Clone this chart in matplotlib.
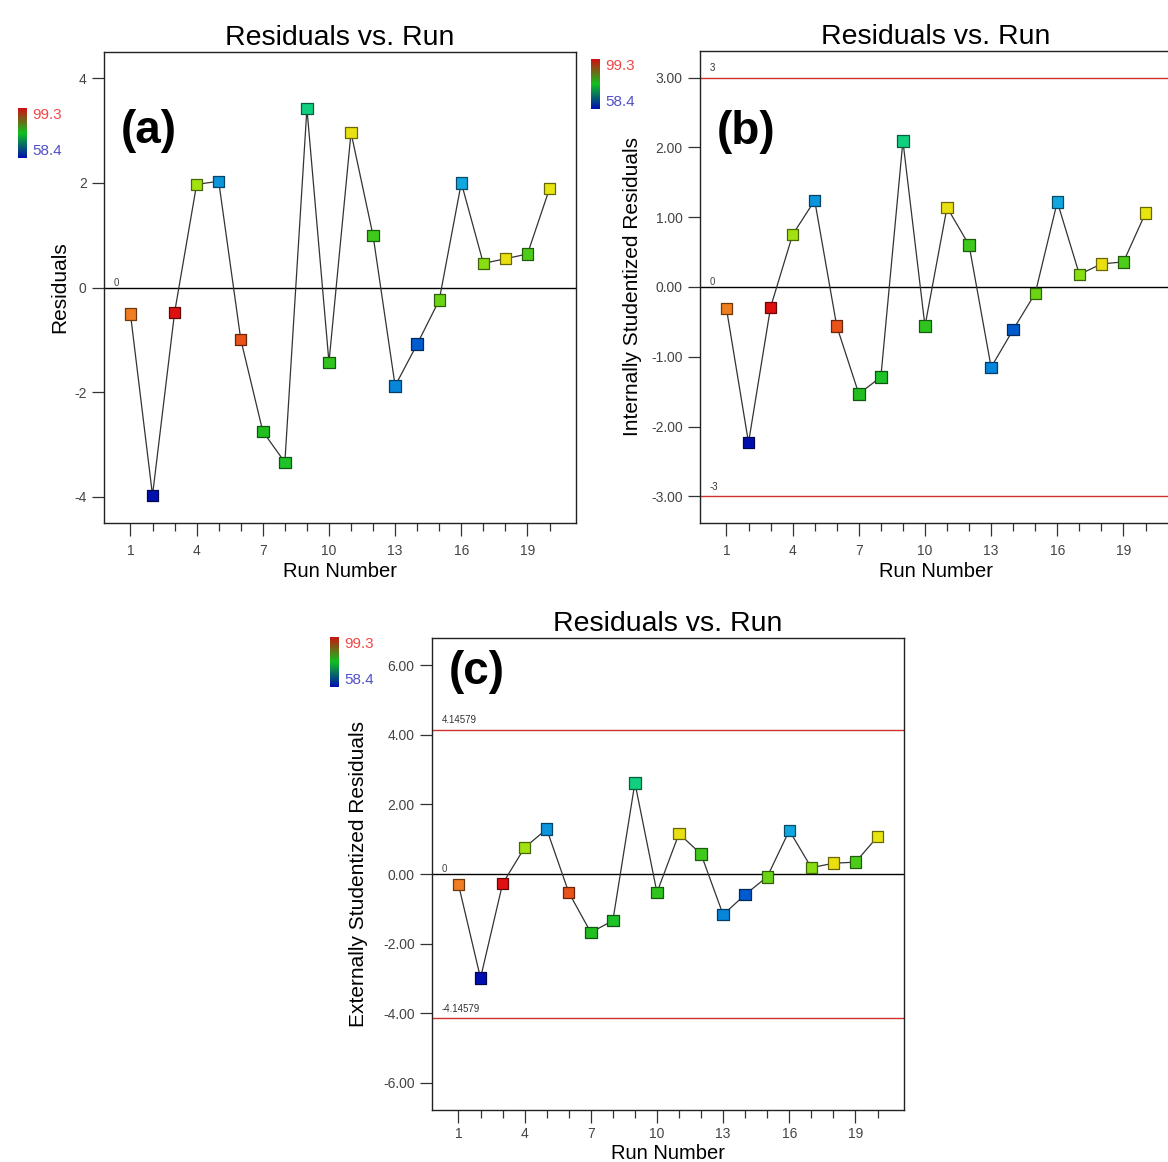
import numpy as np
import matplotlib
matplotlib.use("Agg")
import matplotlib.pyplot as plt
from matplotlib.colors import LinearSegmentedColormap, Normalize

plt.rcParams['font.family'] = ['Liberation Sans', 'DejaVu Sans']

# run order and residuals
runs = np.arange(1, 21)
resid = [-0.51, -3.97, -0.48, 1.97, 2.03, -0.99, -2.75, -3.34, 3.42, -1.43,
         2.96, 0.99, -1.88, -1.08, -0.24, 2.00, 0.46, 0.55, 0.64, 1.89]
int_stud = [-0.31, -2.23, -0.29, 0.75, 1.24, -0.56, -1.53, -1.29, 2.09, -0.56,
            1.14, 0.60, -1.15, -0.61, -0.09, 1.22, 0.18, 0.33, 0.36, 1.06]
ext_stud = [-0.30, -2.99, -0.28, 0.76, 1.29, -0.53, -1.68, -1.34, 2.62, -0.53,
            1.16, 0.57, -1.17, -0.59, -0.08, 1.25, 0.18, 0.31, 0.34, 1.07]
# response used to colour the points (58.4 .. 99.3)
response = [94.4, 58.4, 99.3, 85.8, 69.4, 96.4, 78.9, 78.5, 74.8, 79.7,
            89.5, 80.5, 68.2, 64.9, 82.9, 70.7, 84.6, 89.5, 81.3, 89.1]
resp_min, resp_max = 58.4, 99.3

int_limit = 3
ext_limit = 4.14579

W, H = 1168, 1162
fig = plt.figure(figsize=(W / 100, H / 100), dpi=100)


def rect(l, t, r, b):
    return [l / W, 1 - b / H, (r - l) / W, (b - t) / H]


pt_cmap = LinearSegmentedColormap.from_list("de", [
    (0.0, "#0010b0"), (0.2, "#0070d8"), (0.3, "#10a8e0"), (0.4, "#10d080"),
    (0.5, "#20c020"), (0.65, "#90e010"), (0.75, "#e8e810"), (0.88, "#f08020"),
    (1.0, "#e01010")])
bar_cmap = LinearSegmentedColormap.from_list("bar", ["#0010b0", "#10c020", "#d01010"])
norm = Normalize(resp_min, resp_max)
colors = pt_cmap(norm(np.array(response)))
edges = colors.copy()
edges[:, :3] *= 0.45


def panel(box, yvals, ylim, yticks, yfmt, ylabel, letter, lab_x, let_y,
          xlab_y=-0.083, xpad=6, limit=None, limit_txt=None):
    ax = fig.add_axes(rect(*box))
    ax.plot(runs, yvals, color="#333333", lw=0.9, zorder=2)
    ax.scatter(runs, yvals, marker="s", s=68, c=colors, edgecolors=edges,
               linewidths=0.9, zorder=3)
    ax.axhline(0, color="black", lw=1.0, zorder=1)
    ax.text(0.02, 0.0, "0", transform=ax.get_yaxis_transform(), fontsize=7,
            color="#444444", ha="left", va="bottom")
    if limit is not None:
        for v, t in [(limit, limit_txt[0]), (-limit, limit_txt[1])]:
            ax.axhline(v, color="#d03030", lw=1.0, zorder=1)
            ax.text(0.02, v + 0.01 * (ylim[1] - ylim[0]), t,
                    transform=ax.get_yaxis_transform(), fontsize=7,
                    color="#333333", ha="left", va="bottom")
    ax.set_xlim(-0.2, 21.2)
    ax.set_ylim(*ylim)
    ax.set_xticks([1, 4, 7, 10, 13, 16, 19])
    ax.set_xticks(runs, minor=True)
    ax.set_yticks(yticks)
    ax.set_yticklabels([yfmt(v).replace("\u2212", "-") for v in yticks])
    ax.tick_params(axis="both", which="major", direction="out", length=9,
                   width=0.9, labelsize=10, labelcolor="#444444", color="#333333")
    ax.tick_params(axis="x", which="minor", direction="out", length=6,
                   width=0.9, color="#333333")
    ax.tick_params(axis="x", pad=xpad)
    for s in ax.spines.values():
        s.set_linewidth(1.0)
        s.set_color("#222222")
    ax.set_title("Residuals vs. Run", fontsize=20.5, pad=5)
    ax.set_xlabel("Run Number", fontsize=14.5)
    ax.xaxis.set_label_coords(0.5, xlab_y)
    ax.set_ylabel(ylabel, fontsize=15)
    ax.yaxis.set_label_coords(lab_x, 0.5)
    ax.text(0.035, let_y, letter, transform=ax.transAxes, fontsize=33,
            fontweight="bold", ha="left", va="top")
    return ax


def color_key(x, top):
    cax = fig.add_axes(rect(x, top, x + 9, top + 50))
    cax.imshow(np.linspace(1, 0, 100)[:, None], aspect="auto", cmap=bar_cmap)
    cax.set_xticks([])
    cax.set_yticks([])
    for s in cax.spines.values():
        s.set_visible(False)
    fig.text((x + 14) / W, 1 - (top + 7) / H, f"{resp_max}", color="#f04848",
             fontsize=11, va="center", ha="left")
    fig.text((x + 14) / W, 1 - (top + 43) / H, f"{resp_min}", color="#5050c8",
             fontsize=11, va="center", ha="left")


panel((104, 52, 576, 523), resid, (-4.5, 4.5), [-4, -2, 0, 2, 4],
      lambda v: f"{v:d}", "Residuals", "(a)", -0.074, 0.88)
panel((700, 51, 1172, 523), int_stud, (-3.38, 3.38), [-3, -2, -1, 0, 1, 2, 3],
      lambda v: f"{v:.2f}", "Internally Studentized Residuals", "(b)", -0.123,
      0.875, limit=int_limit, limit_txt=["3", "-3"])
panel((432, 638, 904, 1110), ext_stud, (-6.78, 6.78), [-6, -4, -2, 0, 2, 4, 6],
      lambda v: f"{v:.2f}", "Externally Studentized Residuals", "(c)", -0.136,
      0.975, xlab_y=-0.072, xpad=3, limit=ext_limit,
      limit_txt=["4.14579", "-4.14579"])

color_key(18, 108)
color_key(591, 59)
color_key(330, 637)

fig.savefig("out.png", dpi=100, facecolor="white")
